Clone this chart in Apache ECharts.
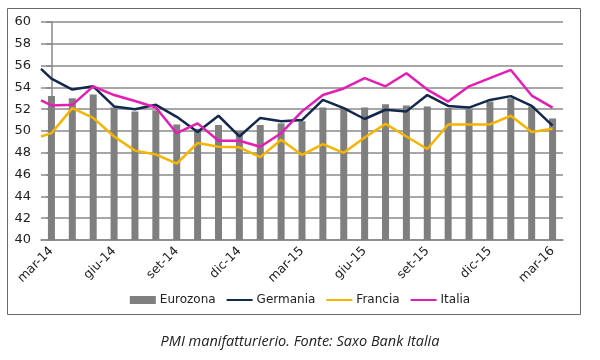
<!DOCTYPE html>
<html>
<head>
<meta charset="utf-8">
<script src="https://cdn.jsdelivr.net/npm/echarts@6/dist/echarts.min.js"></script>
<style>
html,body{margin:0;padding:0;background:#fff;}
#c{width:600px;height:360px;}
</style>
</head>
<body>
<div id="c"></div>
<script>
const categories = ['mar-14','apr-14','mag-14','giu-14','lug-14','ago-14','set-14','ott-14','nov-14','dic-14','gen-15','feb-15','mar-15','apr-15','mag-15','giu-15','lug-15','ago-15','set-15','ott-15','nov-15','dic-15','gen-16','feb-16','mar-16'];
const eurozona = [53.2, 53.0, 53.35, 52.15, 51.8, 51.9, 50.6, 50.2, 50.55, 50.0, 50.55, 50.7, 50.9, 52.15, 52.1, 52.15, 52.45, 52.35, 52.25, 52.1, 52.0, 52.7, 53.0, 52.25, 51.15];
// line series carry one extra leading value that starts at the left edge of the plot
const germania = [55.7, 54.8, 53.8, 54.1, 52.25, 52.0, 52.4, 51.3, 49.9, 51.4, 49.5, 51.2, 50.9, 51.0, 52.85, 52.1, 51.1, 51.95, 51.8, 53.3, 52.3, 52.15, 52.85, 53.2, 52.3, 50.5];
const francia = [49.5, 49.8, 52.1, 51.2, 49.5, 48.2, 47.85, 47.0, 48.9, 48.55, 48.5, 47.6, 49.2, 47.8, 48.8, 48.0, 49.4, 50.65, 49.5, 48.35, 50.6, 50.6, 50.6, 51.4, 49.9, 50.2];
const italia = [52.8, 52.35, 52.4, 54.1, 53.3, 52.75, 52.15, 49.8, 50.7, 49.1, 49.1, 48.55, 49.8, 51.8, 53.3, 53.9, 54.85, 54.1, 55.3, 53.8, 52.7, 54.1, 54.85, 55.6, 53.25, 52.15];
const yTicks = {min: 40, max: 60, interval: 2};
const caption = 'PMI manifatturierio. Fonte: Saxo Bank Italia';

function toPoints(arr){
  return arr.map((v, i) => [i === 0 ? -0.5 : i - 1, v]);
}

const FONT = 'DejaVu Sans';
const noSym = {opacity: 0, borderWidth: 0};
const chart = echarts.init(document.getElementById('c'), null, {renderer: 'canvas'});
chart.setOption({
  animation: false,
  backgroundColor: '#fff',
  grid: {left: 41, right: 37, top: 22, bottom: 120, containLabel: false},
  graphic: [
    {type: 'rect', shape: {x: 7.5, y: 8.5, width: 573, height: 306}, style: {fill: 'none', stroke: '#6a6a6a', lineWidth: 1}, z: -1},
    {type: 'text', left: 'center', top: 334, style: {text: caption, font: 'italic 14.5px "Open Sans"', fill: '#222'}}
  ],
  legend: {
    left: 'center', top: 289, itemWidth: 26, itemHeight: 8, itemGap: 10,
    textStyle: {fontFamily: FONT, fontSize: 12, color: '#222', padding: [0,0,0,-1]},
    data: [
      {name: 'Eurozona', icon: 'rect'},
      {name: 'Germania', itemStyle: noSym},
      {name: 'Francia', itemStyle: noSym},
      {name: 'Italia', itemStyle: noSym}
    ]
  },
  xAxis: [
    {
      type: 'category', data: categories, boundaryGap: true,
      axisLine: {lineStyle: {color: '#888', width: 1.5}},
      axisTick: {interval: 2, length: 5, lineStyle: {color: '#888', width: 1.5}},
      axisLabel: {interval: 2, rotate: 45, fontFamily: FONT, fontSize: 12.5, color: '#222', margin: 9},
      splitLine: {show: false}
    },
    {type: 'value', min: -0.5, max: 24.5, show: false}
  ],
  yAxis: {
    type: 'value', min: yTicks.min, max: yTicks.max, interval: yTicks.interval,
    axisLine: {show: true, lineStyle: {color: '#888', width: 1.5}},
    axisTick: {show: true, length: 5, inside: false, lineStyle: {color: '#888', width: 1.5}},
    axisLabel: {fontFamily: FONT, fontSize: 13, color: '#222', margin: 10},
    splitLine: {lineStyle: {color: '#8a8a8a', width: 1.5}}
  },
  series: [
    {name: 'Eurozona', type: 'bar', data: eurozona, barWidth: 7, itemStyle: {color: '#7f7f7f'}, xAxisIndex: 0},
    {name: 'Germania', type: 'line', xAxisIndex: 1, data: toPoints(germania), symbol: 'none', lineStyle: {color: '#13284d', width: 2.5}, itemStyle: {color: '#13284d'}},
    {name: 'Francia', type: 'line', xAxisIndex: 1, data: toPoints(francia), symbol: 'none', lineStyle: {color: '#f5b400', width: 2.5}, itemStyle: {color: '#f5b400'}},
    {name: 'Italia', type: 'line', xAxisIndex: 1, data: toPoints(italia), symbol: 'none', lineStyle: {color: '#e41eb4', width: 2.5}, itemStyle: {color: '#e41eb4'}}
  ]
});
</script>
</body>
</html>
